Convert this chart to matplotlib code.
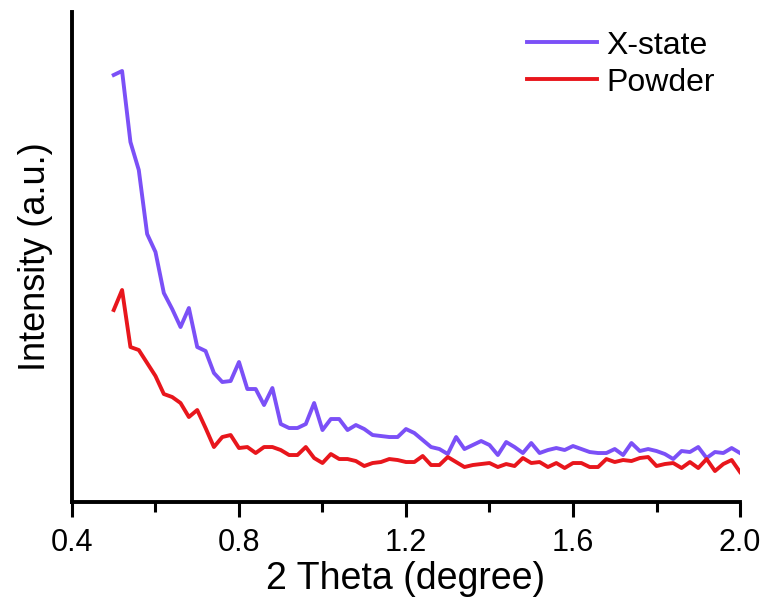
import matplotlib
matplotlib.use("Agg")
import matplotlib.pyplot as plt
import numpy as np
from matplotlib.ticker import MultipleLocator

plt.rcParams['font.family'] = ['Liberation Sans', 'DejaVu Sans']

# 2 theta grid, 0.50 to 2.00 deg in 0.02 steps
two_theta = np.round(np.arange(0.50, 2.0001, 0.02), 2)

# intensity (a.u.) for the two samples
x_state = [427, 431, 360, 332, 268, 250, 209, 193, 175, 194, 155, 151, 129, 120,
           121, 140, 113, 113, 97, 114, 78, 74, 74, 78, 99, 72, 83, 83, 72, 77,
           73, 67, 66, 65, 65, 73, 69, 62, 55, 53, 48, 65, 53, 57, 61, 57, 47,
           60, 55, 49, 59, 49, 52, 54, 52, 56, 53, 50, 49, 49, 53, 47, 59, 51,
           53, 51, 48, 43, 51, 50, 55, 44, 50, 49, 54, 49]
powder = [192, 212, 155, 152, 139, 126, 108, 105, 99, 85, 92, 74, 55, 65, 67,
          54, 55, 49, 55, 55, 52, 47, 47, 55, 44, 39, 48, 43, 43, 41, 36, 39,
          40, 43, 42, 40, 40, 46, 37, 37, 45, 40, 35, 37, 38, 39, 35, 38, 36,
          44, 39, 40, 35, 39, 34, 39, 39, 35, 35, 43, 40, 42, 41, 44, 45, 36,
          38, 39, 34, 40, 34, 43, 31, 38, 42, 30]

fig = plt.figure(figsize=(7.69, 6.05), dpi=100)
ax = fig.add_axes([0.0936, 0.1702, 0.8687, 0.81])

ax.plot(two_theta, x_state, color='#7b50f7', lw=2.8, label='X-state')
ax.plot(two_theta, powder, color='#e8161c', lw=2.8, label='Powder')

ax.set_xlim(0.4, 2.0)
ax.set_ylim(0, 490)
ax.xaxis.set_major_locator(MultipleLocator(0.4))
ax.xaxis.set_minor_locator(MultipleLocator(0.2))
ax.set_xticks([0.4, 0.8, 1.2, 1.6, 2.0])
ax.set_xticklabels(['0.4', '0.8', '1.2', '1.6', '2.0'])
ax.set_yticks([])

for side in ['top', 'right']:
    ax.spines[side].set_visible(False)
for side in ['left', 'bottom']:
    ax.spines[side].set_linewidth(2.8)

ax.tick_params(axis='x', which='major', direction='out', length=11, width=2.2,
               labelsize=22, pad=8)
ax.tick_params(axis='x', which='minor', direction='out', length=7, width=2.2)

ax.set_xlabel('2 Theta (degree)', fontsize=27, labelpad=2)
ax.set_ylabel('Intensity (a.u.)', fontsize=26, labelpad=14)

ax.legend(loc='upper right', frameon=False, fontsize=23, handlelength=2.2,
          handletextpad=0.3, labelspacing=0.22, borderaxespad=0,
          bbox_to_anchor=(0.982, 0.988))

fig.savefig('out.png', dpi=100)
